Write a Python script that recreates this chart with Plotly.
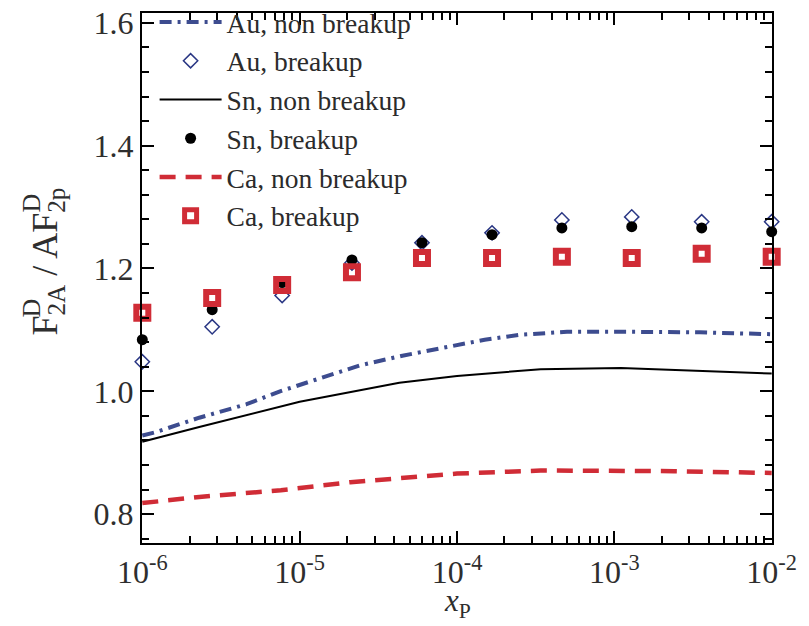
import plotly.graph_objects as go

# x positions of the breakup calculations
x_pts = [1.0e-6, 2.78e-6, 7.74e-6, 2.15e-5, 5.99e-5, 1.67e-4, 4.64e-4, 1.29e-3, 3.59e-3, 1.0e-2]
au_breakup = [1.048, 1.105, 1.156, 1.209, 1.242, 1.258, 1.279, 1.284, 1.276, 1.276]
sn_breakup = [1.084, 1.133, 1.177, 1.214, 1.242, 1.255, 1.266, 1.268, 1.266, 1.260]
ca_breakup = [1.128, 1.152, 1.173, 1.194, 1.217, 1.217, 1.219, 1.217, 1.224, 1.219]

# non-breakup curves
au_x = [1.0e-6, 1.2e-6, 2.3e-6, 4.6e-6, 7.5e-6, 1.35e-5, 2.4e-5, 4.5e-5, 9.5e-5,
        1.5e-4, 2.5e-4, 5.0e-4, 1.1e-3, 3.5e-3, 1.0e-2]
au_line = [0.928, 0.933, 0.957, 0.979, 1.000, 1.022, 1.042, 1.058, 1.074,
           1.084, 1.092, 1.097, 1.097, 1.096, 1.093]
sn_x = [1.0e-6, 2.3e-6, 1.0e-5, 4.3e-5, 1.0e-4, 3.4e-4, 1.1e-3, 3.5e-3, 1.0e-2]
sn_line = [0.918, 0.942, 0.983, 1.014, 1.025, 1.036, 1.038, 1.033, 1.029]
ca_x = [1.0e-6, 2.3e-6, 7.6e-6, 2.1e-5, 1.0e-4, 3.4e-4, 2.4e-3, 1.0e-2]
ca_line = [0.818, 0.828, 0.839, 0.852, 0.866, 0.871, 0.870, 0.867]

# axis ticks
x_tickvals = [1e-6, 1e-5, 1e-4, 1e-3, 1e-2]
x_ticktext = ["10<sup>-6</sup>", "10<sup>-5</sup>", "10<sup>-4</sup>", "10<sup>-3</sup>", "10<sup>-2</sup>"]
y_tickvals = [0.8, 1.0, 1.2, 1.4, 1.6]
y_ticktext = ["0.8", "1.0", "1.2", "1.4", "1.6"]

SERIF = "Liberation Serif"
BLUE_LINE = "#3d4c8f"
BLUE_MK = "#2a3784"
RED = "#d02c36"
TEXT = "#2e2e2e"

fig = go.Figure()

fig.add_trace(go.Scatter(x=au_x, y=au_line, mode="lines", name="Au, non breakup",
                         line=dict(color=BLUE_LINE, width=4, dash="12px,6px,3px,6px")))
fig.add_trace(go.Scatter(x=x_pts, y=au_breakup, mode="markers", name="Au, breakup",
                         cliponaxis=False,
                         marker=dict(symbol="diamond-open", size=11, color=BLUE_MK,
                                     line=dict(width=1.5, color=BLUE_MK))))
fig.add_trace(go.Scatter(x=sn_x, y=sn_line, mode="lines", name="Sn, non breakup",
                         line=dict(color="black", width=2)))
fig.add_trace(go.Scatter(x=x_pts, y=sn_breakup, mode="markers", name="Sn, breakup",
                         cliponaxis=False,
                         marker=dict(symbol="circle", size=11, color="black")))
fig.add_trace(go.Scatter(x=ca_x, y=ca_line, mode="lines", name="Ca, non breakup",
                         line=dict(color=RED, width=4.5, dash="16px,10px")))
fig.add_trace(go.Scatter(x=x_pts, y=ca_breakup, mode="markers", name="Ca, breakup",
                         cliponaxis=False,
                         marker=dict(symbol="square-open", size=12, color=RED,
                                     line=dict(width=6, color=RED))))

axis_common = dict(showline=True, linecolor="black", linewidth=2, mirror="allticks",
                   ticks="inside", ticklen=12, tickwidth=2, tickcolor="black",
                   showgrid=False, zeroline=False, automargin=False,
                   tickfont=dict(family=SERIF, size=32, color=TEXT))

# log range padded a hair so the end markers at 1e-6 and 1e-2 stay visible
fig.update_xaxes(type="log", range=[-6.002, -1.998], tickmode="array",
                 tickvals=x_tickvals, ticktext=x_ticktext,
                 minor=dict(ticks="inside", ticklen=7, tickwidth=1.5, tickcolor="black",
                            dtick="D1", showgrid=False),
                 **axis_common)
fig.update_yaxes(range=[0.753, 1.616], tickmode="array",
                 tickvals=y_tickvals, ticktext=y_ticktext,
                 minor=dict(ticks="inside", ticklen=7, tickwidth=1.5, tickcolor="black",
                            dtick=0.04, tick0=0.8, showgrid=False),
                 **axis_common)

# x-axis label
fig.add_annotation(text="<i>x</i><sub>P</sub>", xref="paper", yref="paper",
                   x=0.5, y=-0.114, xanchor="center", yanchor="middle", showarrow=False,
                   borderpad=0, font=dict(family=SERIF, size=31, color=TEXT))

# rotated y-axis label with stacked super/subscripts
title_x, title_y = -0.15, 0.53
fig.add_annotation(text="F<sub>2A</sub> / AF<sub>2p</sub>", textangle=-90,
                   xref="paper", yref="paper", x=title_x, y=title_y,
                   xanchor="center", yanchor="middle", showarrow=False,
                   font=dict(family=SERIF, size=36, color=TEXT))
fig.add_annotation(text="D", textangle=-90, xref="paper", yref="paper", x=title_x, y=title_y,
                   xshift=-16, yshift=-46, xanchor="center", yanchor="middle",
                   showarrow=False, font=dict(family=SERIF, size=26, color=TEXT))
fig.add_annotation(text="D", textangle=-90, xref="paper", yref="paper", x=title_x, y=title_y,
                   xshift=-16, yshift=59, xanchor="center", yanchor="middle",
                   showarrow=False, font=dict(family=SERIF, size=26, color=TEXT))

fig.update_layout(
    width=809, height=626,
    margin=dict(l=142, r=37, t=13, b=83, autoexpand=False),
    paper_bgcolor="white", plot_bgcolor="white",
    showlegend=True,
    legend=dict(x=0.02, y=1.029, xanchor="left", yanchor="top",
                bgcolor="rgba(0,0,0,0)", itemwidth=62, tracegroupgap=0,
                font=dict(family=SERIF, size=27.5, color="#2b2b2b")),
)

fig.write_html("out.html")
